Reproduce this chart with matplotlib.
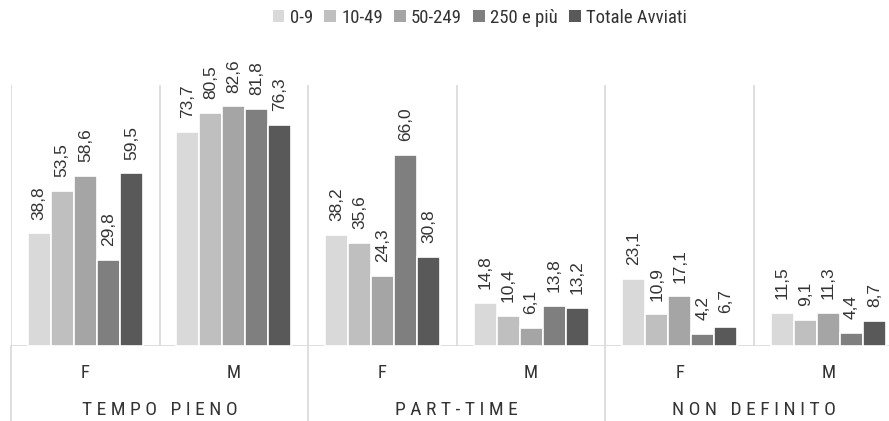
import matplotlib
matplotlib.use('Agg')
import matplotlib.pyplot as plt
from matplotlib.patches import Patch
import numpy as np

NARROW = ['Liberation Sans Narrow', 'Roboto Condensed', 'IBM Plex Sans Condensed', 'Liberation Sans', 'DejaVu Sans']
REGULAR = ['Liberation Sans', 'DejaVu Sans']
plt.rcParams['font.family'] = NARROW

# data
series = ['0-9', '10-49', '50-249', '250 e più', 'Totale Avviati']
colors = ['#D9D9D9', '#BFBFBF', '#A5A5A5', '#7F7F7F', '#595959']
sex_labels = ['F', 'M', 'F', 'M', 'F', 'M']
groups = ['TEMPO PIENO', 'PART-TIME', 'NON DEFINITO']
v_0_9 = [38.8, 73.7, 38.2, 14.8, 23.1, 11.5]
v_10_49 = [53.5, 80.5, 35.6, 10.4, 10.9, 9.1]
v_50_249 = [58.6, 82.6, 24.3, 6.1, 17.1, 11.3]
v_250 = [29.8, 81.8, 66.0, 13.8, 4.2, 4.4]
v_tot = [59.5, 76.3, 30.8, 13.2, 6.7, 8.7]
values = [v_0_9, v_10_49, v_50_249, v_250, v_tot]

W, H = 889, 421
fig = plt.figure(figsize=(W / 100, H / 100), dpi=100)
left_px, base_px, top_px = 11, 346, 85
grp_px = 148.6
ax = fig.add_axes([left_px / W, (H - base_px) / H, 6 * grp_px / W, (base_px - top_px) / H])

x = np.arange(6)
bw = 0.155
txt = '#333333'
for i, (vals, c) in enumerate(zip(values, colors)):
    pos = x + (i - 2) * bw
    ax.bar(pos, vals, width=bw, color=c, edgecolor='white', linewidth=1.2, zorder=3)
    for px_, v in zip(pos, vals):
        ax.annotate(f'{v:.1f}'.replace('.', ','), (px_, v), xytext=(0, 10),
                    textcoords='offset points', rotation=90, ha='center', va='bottom',
                    fontsize=12.5, family=REGULAR, color=txt, zorder=4)

ax.set_xlim(-0.5, 5.5)
ax.set_ylim(0, 90)
for s in ax.spines.values():
    s.set_visible(False)
ax.set_xticks([])
ax.set_yticks([])
ax.axhline(0, color='#D9D9D9', lw=1.2, zorder=2)
for k in range(7):
    ax.axvline(k - 0.5, color='#D9D9D9', lw=1.2, zorder=1)
    if k % 2 == 0:
        ax.plot([k - 0.5, k - 0.5], [0, -1.0], transform=ax.get_xaxis_transform(),
                color='#D9D9D9', lw=1.2, clip_on=False)

tr = ax.get_xaxis_transform()
for i, lab in enumerate(sex_labels):
    ax.text(i, -(373 - base_px) / (base_px - top_px), lab, transform=tr,
            ha='center', va='center', fontsize=13.5, color=txt)
for g, lab in enumerate(groups):
    ax.text(2 * g + 0.5, -(410 - base_px) / (base_px - top_px), ' '.join(lab), transform=tr,
            ha='center', va='center', fontsize=14, color=txt)

handles = [Patch(facecolor=c, edgecolor='none') for c in colors]
fig.legend(handles, series, loc='center', bbox_to_anchor=(480 / W, 1 - 18 / H), ncol=5,
           frameon=False, fontsize=13.5, handlelength=0.6, handleheight=0.6,
           handletextpad=0.3, columnspacing=0.6, labelcolor=txt)

fig.savefig('out.png', dpi=100)
